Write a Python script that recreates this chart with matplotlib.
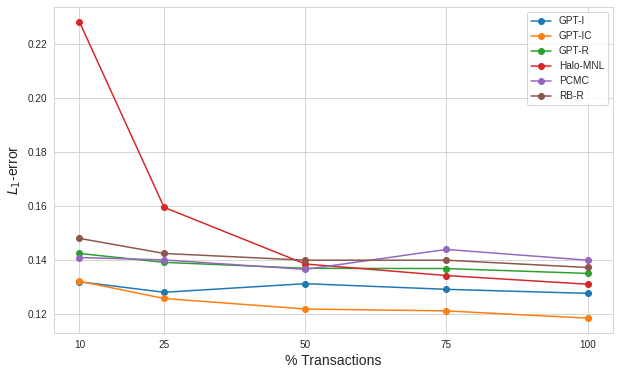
import matplotlib
matplotlib.use("Agg")
import matplotlib.pyplot as plt
import seaborn as sns

# % of transactions used
pct = [10, 25, 50, 75, 100]

gpt_i = [0.1320, 0.1281, 0.1313, 0.1292, 0.1277]
gpt_ic = [0.1322, 0.1258, 0.1219, 0.1212, 0.1185]
gpt_r = [0.1425, 0.1392, 0.1370, 0.1369, 0.1351]
halo_mnl = [0.2284, 0.1596, 0.1386, 0.1343, 0.1311]
pcmc = [0.1410, 0.1401, 0.1366, 0.1440, 0.1400]
rb_r = [0.1481, 0.1425, 0.1400, 0.1400, 0.1373]

names = ['GPT-I', 'GPT-IC', 'GPT-R', 'Halo-MNL', 'PCMC', 'RB-R']
series = [gpt_i, gpt_ic, gpt_r, halo_mnl, pcmc, rb_r]

sns.set_style("whitegrid")
plt.rcParams['font.family'] = ['Liberation Sans', 'DejaVu Sans']

dpi = 72
fig = plt.figure(figsize=(619 / dpi, 374 / dpi), dpi=dpi)
ax = fig.add_axes([54 / 619, 1 - 333 / 374, (613 - 54) / 619, (333 - 7) / 374])

for vals, name in zip(series, names):
    ax.plot(pct, vals, marker='o', label=name)

ax.set_xticks(pct)
ax.set_xlabel('% Transactions', fontsize=14)
ax.set_ylabel('$L_1$-error', fontsize=14)
ax.legend(loc='upper right')

fig.savefig('out.png', dpi=dpi)
